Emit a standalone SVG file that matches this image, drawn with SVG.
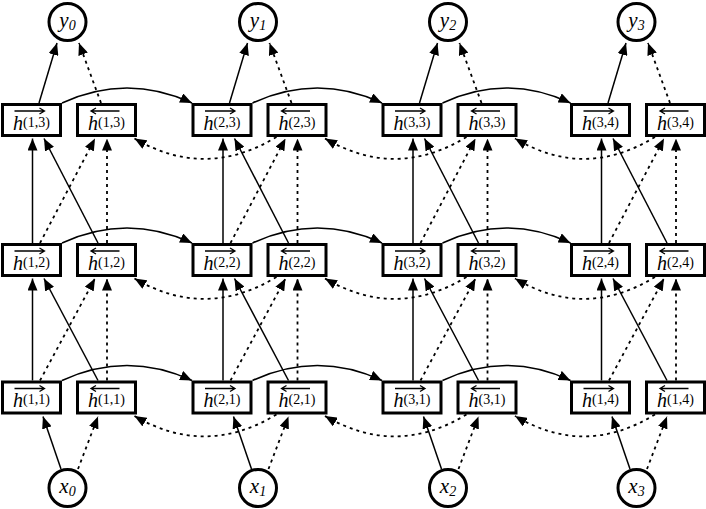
<svg xmlns="http://www.w3.org/2000/svg" width="706" height="509" viewBox="0 0 706 509">
<defs>
<marker id="ah" markerUnits="userSpaceOnUse" markerWidth="12" markerHeight="10" refX="12" refY="5" orient="auto" viewBox="0 0 12 10">
<path d="M0,0 L12,5 L0,10 Z" fill="#000"/>
</marker>
<style>
.box{fill:#fff;stroke:#000;stroke-width:3}
.circ{fill:#fff;stroke:#000;stroke-width:3}
.lbl{font-family:"Liberation Serif","Times New Roman",serif;fill:#000}
.hh{font-style:italic;font-size:20px}
.sup{font-size:14px}
.var{font-style:italic;font-size:21px}
.sub{font-style:italic;font-size:14px}
.ov{fill:none;stroke:#000;stroke-width:1.3}
.s{fill:none;stroke:#000;stroke-width:1.5;marker-end:url(#ah)}
.d{fill:none;stroke:#000;stroke-width:1.8;stroke-dasharray:3 4;marker-end:url(#ah)}
</style>
</defs>
<rect width="706" height="509" fill="#fff"/>

<g id="connectors">
<!-- inputs -->
<path class="s" d="M61,469 L43,416.5"/><path class="d" d="M78,469 L98,416.5"/>
<path class="s" d="M251.5,469 L233.5,416.5"/><path class="d" d="M268.5,469 L288.5,416.5"/>
<path class="s" d="M441.5,469 L423.5,416.5"/><path class="d" d="M458.5,469 L478.5,416.5"/>
<path class="s" d="M630,469 L612,416.5"/><path class="d" d="M647,469 L667,416.5"/>
<!-- outputs -->
<path class="s" d="M39,103 L57,43"/><path class="d" d="M101,103 L79,43"/>
<path class="s" d="M229.5,103 L247.5,43"/><path class="d" d="M291.5,103 L269.5,43"/>
<path class="s" d="M419.5,103 L437.5,43"/><path class="d" d="M481.5,103 L459.5,43"/>
<path class="s" d="M608,103 L626,43"/><path class="d" d="M670,103 L648,43"/>
<!-- between rows 1 -> 2 -->
<path class="s" d="M32.5,380.5 L32.5,278.5"/><path class="s" d="M98,380.5 L44,278.5"/><path class="d" d="M40,380.5 L95,278.5"/><path class="d" d="M107,380.5 L107,278.5"/>
<path class="s" d="M223,380.5 L223,278.5"/><path class="s" d="M288.5,380.5 L234.5,278.5"/><path class="d" d="M230.5,380.5 L285.5,278.5"/><path class="d" d="M297.5,380.5 L297.5,278.5"/>
<path class="s" d="M413,380.5 L413,278.5"/><path class="s" d="M478.5,380.5 L424.5,278.5"/><path class="d" d="M420.5,380.5 L475.5,278.5"/><path class="d" d="M487.5,380.5 L487.5,278.5"/>
<path class="s" d="M601.5,380.5 L601.5,278.5"/><path class="s" d="M667,380.5 L613,278.5"/><path class="d" d="M609,380.5 L664,278.5"/><path class="d" d="M676,380.5 L676,278.5"/>
<!-- between rows 2 -> 3 -->
<path class="s" d="M32.5,243 L32.5,138.5"/><path class="s" d="M98,243 L44,138.5"/><path class="d" d="M40,243 L95,138.5"/><path class="d" d="M107,243 L107,138.5"/>
<path class="s" d="M223,243 L223,138.5"/><path class="s" d="M288.5,243 L234.5,138.5"/><path class="d" d="M230.5,243 L285.5,138.5"/><path class="d" d="M297.5,243 L297.5,138.5"/>
<path class="s" d="M413,243 L413,138.5"/><path class="s" d="M478.5,243 L424.5,138.5"/><path class="d" d="M420.5,243 L475.5,138.5"/><path class="d" d="M487.5,243 L487.5,138.5"/>
<path class="s" d="M601.5,243 L601.5,138.5"/><path class="s" d="M667,243 L613,138.5"/><path class="d" d="M609,243 L664,138.5"/><path class="d" d="M676,243 L676,138.5"/>
<!-- forward in time (solid, top) -->
<path class="s" d="M62,103 Q127,73 192,103"/><path class="s" d="M252.5,103 Q317.5,73 382,103"/><path class="s" d="M442.5,103 Q506.5,73 570.5,103"/>
<path class="s" d="M62,243 Q127,213 192,243"/><path class="s" d="M252.5,243 Q317.5,213 382,243"/><path class="s" d="M442.5,243 Q506.5,213 570.5,243"/>
<path class="s" d="M62,380.5 Q127,350.5 192,380.5"/><path class="s" d="M252.5,380.5 Q317.5,350.5 382,380.5"/><path class="s" d="M442.5,380.5 Q506.5,350.5 570.5,380.5"/>
<!-- backward in time (dotted, bottom) -->
<path class="d" d="M276.5,137 Q205.5,180 134.5,138.5"/><path class="d" d="M466.5,137 Q396,180 325,138.5"/><path class="d" d="M655,137 Q585,180 515,138.5"/>
<path class="d" d="M276.5,277 Q205.5,320 134.5,278.5"/><path class="d" d="M466.5,277 Q396,320 325,278.5"/><path class="d" d="M655,277 Q585,320 515,278.5"/>
<path class="d" d="M276.5,414.5 Q205.5,457.5 134.5,416"/><path class="d" d="M466.5,414.5 Q396,457.5 325,416"/><path class="d" d="M655,414.5 Q585,457.5 515,416"/>
</g>

<!-- output circles -->
<g id="y0"><circle class="circ" cx="67.5" cy="22" r="18.5"/><text class="lbl" x="67.5" y="27" text-anchor="middle"><tspan class="var">y</tspan><tspan class="sub" dy="3">0</tspan></text></g>
<g id="y1"><circle class="circ" cx="258" cy="22" r="18.5"/><text class="lbl" x="258" y="27" text-anchor="middle"><tspan class="var">y</tspan><tspan class="sub" dy="3">1</tspan></text></g>
<g id="y2"><circle class="circ" cx="448" cy="22" r="18.5"/><text class="lbl" x="448" y="27" text-anchor="middle"><tspan class="var">y</tspan><tspan class="sub" dy="3">2</tspan></text></g>
<g id="y3"><circle class="circ" cx="636.5" cy="22" r="18.5"/><text class="lbl" x="636.5" y="27" text-anchor="middle"><tspan class="var">y</tspan><tspan class="sub" dy="3">3</tspan></text></g>

<!-- input circles -->
<g id="x0"><circle class="circ" cx="67.5" cy="488" r="18.5"/><text class="lbl" x="67.5" y="493" text-anchor="middle"><tspan class="var">x</tspan><tspan class="sub" dy="3">0</tspan></text></g>
<g id="x1"><circle class="circ" cx="258" cy="488" r="18.5"/><text class="lbl" x="258" y="493" text-anchor="middle"><tspan class="var">x</tspan><tspan class="sub" dy="3">1</tspan></text></g>
<g id="x2"><circle class="circ" cx="448" cy="488" r="18.5"/><text class="lbl" x="448" y="493" text-anchor="middle"><tspan class="var">x</tspan><tspan class="sub" dy="3">2</tspan></text></g>
<g id="x3"><circle class="circ" cx="636.5" cy="488" r="18.5"/><text class="lbl" x="636.5" y="493" text-anchor="middle"><tspan class="var">x</tspan><tspan class="sub" dy="3">3</tspan></text></g>

<!-- row 3 (top) -->
<g id="hf-1-3"><rect class="box" x="2.5" y="104.5" width="58" height="31"/><path class="ov" d="M14.5,111 H44.5 M39.5,108 L44.5,111 L39.5,114"/><text class="lbl" x="31.5" y="129.5" text-anchor="middle"><tspan class="hh">h</tspan><tspan class="sup" dy="-3">(1,3)</tspan></text></g>
<g id="hb-1-3"><rect class="box" x="77.5" y="104.5" width="58" height="31"/><path class="ov" d="M91,111 H119.5 M96,108 L91,111 L96,114"/><text class="lbl" x="106.5" y="129.5" text-anchor="middle"><tspan class="hh">h</tspan><tspan class="sup" dy="-3">(1,3)</tspan></text></g>
<g id="hf-2-3"><rect class="box" x="193" y="104.5" width="58" height="31"/><path class="ov" d="M205,111 H235 M230,108 L235,111 L230,114"/><text class="lbl" x="222" y="129.5" text-anchor="middle"><tspan class="hh">h</tspan><tspan class="sup" dy="-3">(2,3)</tspan></text></g>
<g id="hb-2-3"><rect class="box" x="268" y="104.5" width="58" height="31"/><path class="ov" d="M281.5,111 H310 M286.5,108 L281.5,111 L286.5,114"/><text class="lbl" x="297" y="129.5" text-anchor="middle"><tspan class="hh">h</tspan><tspan class="sup" dy="-3">(2,3)</tspan></text></g>
<g id="hf-3-3"><rect class="box" x="383" y="104.5" width="58" height="31"/><path class="ov" d="M395,111 H425 M420,108 L425,111 L420,114"/><text class="lbl" x="412" y="129.5" text-anchor="middle"><tspan class="hh">h</tspan><tspan class="sup" dy="-3">(3,3)</tspan></text></g>
<g id="hb-3-3"><rect class="box" x="458" y="104.5" width="58" height="31"/><path class="ov" d="M471.5,111 H500 M476.5,108 L471.5,111 L476.5,114"/><text class="lbl" x="487" y="129.5" text-anchor="middle"><tspan class="hh">h</tspan><tspan class="sup" dy="-3">(3,3)</tspan></text></g>
<g id="hf-3-4"><rect class="box" x="571.5" y="104.5" width="58" height="31"/><path class="ov" d="M583.5,111 H613.5 M608.5,108 L613.5,111 L608.5,114"/><text class="lbl" x="600.5" y="129.5" text-anchor="middle"><tspan class="hh">h</tspan><tspan class="sup" dy="-3">(3,4)</tspan></text></g>
<g id="hb-3-4"><rect class="box" x="646.5" y="104.5" width="58" height="31"/><path class="ov" d="M660,111 H688.5 M665,108 L660,111 L665,114"/><text class="lbl" x="675.5" y="129.5" text-anchor="middle"><tspan class="hh">h</tspan><tspan class="sup" dy="-3">(3,4)</tspan></text></g>

<!-- row 2 -->
<g id="hf-1-2"><rect class="box" x="2.5" y="244.5" width="58" height="31"/><path class="ov" d="M14.5,251 H44.5 M39.5,248 L44.5,251 L39.5,254"/><text class="lbl" x="31.5" y="269.5" text-anchor="middle"><tspan class="hh">h</tspan><tspan class="sup" dy="-3">(1,2)</tspan></text></g>
<g id="hb-1-2"><rect class="box" x="77.5" y="244.5" width="58" height="31"/><path class="ov" d="M91,251 H119.5 M96,248 L91,251 L96,254"/><text class="lbl" x="106.5" y="269.5" text-anchor="middle"><tspan class="hh">h</tspan><tspan class="sup" dy="-3">(1,2)</tspan></text></g>
<g id="hf-2-2"><rect class="box" x="193" y="244.5" width="58" height="31"/><path class="ov" d="M205,251 H235 M230,248 L235,251 L230,254"/><text class="lbl" x="222" y="269.5" text-anchor="middle"><tspan class="hh">h</tspan><tspan class="sup" dy="-3">(2,2)</tspan></text></g>
<g id="hb-2-2"><rect class="box" x="268" y="244.5" width="58" height="31"/><path class="ov" d="M281.5,251 H310 M286.5,248 L281.5,251 L286.5,254"/><text class="lbl" x="297" y="269.5" text-anchor="middle"><tspan class="hh">h</tspan><tspan class="sup" dy="-3">(2,2)</tspan></text></g>
<g id="hf-3-2"><rect class="box" x="383" y="244.5" width="58" height="31"/><path class="ov" d="M395,251 H425 M420,248 L425,251 L420,254"/><text class="lbl" x="412" y="269.5" text-anchor="middle"><tspan class="hh">h</tspan><tspan class="sup" dy="-3">(3,2)</tspan></text></g>
<g id="hb-3-2"><rect class="box" x="458" y="244.5" width="58" height="31"/><path class="ov" d="M471.5,251 H500 M476.5,248 L471.5,251 L476.5,254"/><text class="lbl" x="487" y="269.5" text-anchor="middle"><tspan class="hh">h</tspan><tspan class="sup" dy="-3">(3,2)</tspan></text></g>
<g id="hf-2-4"><rect class="box" x="571.5" y="244.5" width="58" height="31"/><path class="ov" d="M583.5,251 H613.5 M608.5,248 L613.5,251 L608.5,254"/><text class="lbl" x="600.5" y="269.5" text-anchor="middle"><tspan class="hh">h</tspan><tspan class="sup" dy="-3">(2,4)</tspan></text></g>
<g id="hb-2-4"><rect class="box" x="646.5" y="244.5" width="58" height="31"/><path class="ov" d="M660,251 H688.5 M665,248 L660,251 L665,254"/><text class="lbl" x="675.5" y="269.5" text-anchor="middle"><tspan class="hh">h</tspan><tspan class="sup" dy="-3">(2,4)</tspan></text></g>

<!-- row 1 (bottom) -->
<g id="hf-1-1"><rect class="box" x="2.5" y="382" width="58" height="31"/><path class="ov" d="M14.5,388.5 H44.5 M39.5,385.5 L44.5,388.5 L39.5,391.5"/><text class="lbl" x="31.5" y="407" text-anchor="middle"><tspan class="hh">h</tspan><tspan class="sup" dy="-3">(1,1)</tspan></text></g>
<g id="hb-1-1"><rect class="box" x="77.5" y="382" width="58" height="31"/><path class="ov" d="M91,388.5 H119.5 M96,385.5 L91,388.5 L96,391.5"/><text class="lbl" x="106.5" y="407" text-anchor="middle"><tspan class="hh">h</tspan><tspan class="sup" dy="-3">(1,1)</tspan></text></g>
<g id="hf-2-1"><rect class="box" x="193" y="382" width="58" height="31"/><path class="ov" d="M205,388.5 H235 M230,385.5 L235,388.5 L230,391.5"/><text class="lbl" x="222" y="407" text-anchor="middle"><tspan class="hh">h</tspan><tspan class="sup" dy="-3">(2,1)</tspan></text></g>
<g id="hb-2-1"><rect class="box" x="268" y="382" width="58" height="31"/><path class="ov" d="M281.5,388.5 H310 M286.5,385.5 L281.5,388.5 L286.5,391.5"/><text class="lbl" x="297" y="407" text-anchor="middle"><tspan class="hh">h</tspan><tspan class="sup" dy="-3">(2,1)</tspan></text></g>
<g id="hf-3-1"><rect class="box" x="383" y="382" width="58" height="31"/><path class="ov" d="M395,388.5 H425 M420,385.5 L425,388.5 L420,391.5"/><text class="lbl" x="412" y="407" text-anchor="middle"><tspan class="hh">h</tspan><tspan class="sup" dy="-3">(3,1)</tspan></text></g>
<g id="hb-3-1"><rect class="box" x="458" y="382" width="58" height="31"/><path class="ov" d="M471.5,388.5 H500 M476.5,385.5 L471.5,388.5 L476.5,391.5"/><text class="lbl" x="487" y="407" text-anchor="middle"><tspan class="hh">h</tspan><tspan class="sup" dy="-3">(3,1)</tspan></text></g>
<g id="hf-1-4"><rect class="box" x="571.5" y="382" width="58" height="31"/><path class="ov" d="M583.5,388.5 H613.5 M608.5,385.5 L613.5,388.5 L608.5,391.5"/><text class="lbl" x="600.5" y="407" text-anchor="middle"><tspan class="hh">h</tspan><tspan class="sup" dy="-3">(1,4)</tspan></text></g>
<g id="hb-1-4"><rect class="box" x="646.5" y="382" width="58" height="31"/><path class="ov" d="M660,388.5 H688.5 M665,385.5 L660,388.5 L665,391.5"/><text class="lbl" x="675.5" y="407" text-anchor="middle"><tspan class="hh">h</tspan><tspan class="sup" dy="-3">(1,4)</tspan></text></g>
</svg>
